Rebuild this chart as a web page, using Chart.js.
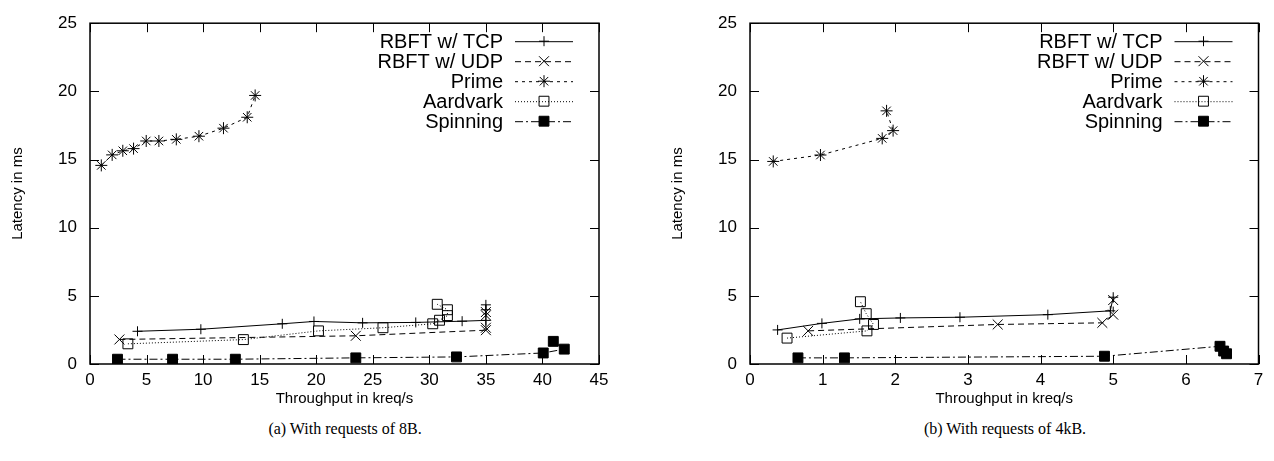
<!DOCTYPE html>
<html>
<head>
<meta charset="utf-8">
<script src="https://cdn.jsdelivr.net/npm/chart.js@4.4.1/dist/chart.umd.min.js"></script>
<style>
body{margin:0;background:#fff;width:1274px;height:461px;overflow:hidden;position:relative}
.box{position:absolute;top:0;height:410px}
#boxA{left:0;width:620px}
#boxB{left:660px;width:614px}
.cap{position:absolute;top:420px;font-family:"Liberation Serif",serif;font-size:16px;text-align:center;color:#000}
</style>
</head>
<body>
<div class="box" id="boxA"><canvas id="chartA"></canvas></div>
<div class="box" id="boxB"><canvas id="chartB"></canvas></div>
<div class="cap" style="left:145px;width:400px">(a) With requests of 8B.</div>
<div class="cap" style="left:805px;width:400px">(b) With requests of 4kB.</div>
<script>

// (a) requests of 8B
const tcpA_x=[4.2,9.8,17.0,19.8,24.1,28.8,32.9,35.0,35.0,35.0]
const tcpA_y=[2.4,2.55,2.95,3.12,3.02,3.05,3.14,3.2,3.98,4.34]
const udpA_x=[2.6,23.5,35.0,35.0,35.0,35.0]
const udpA_y=[1.8,2.07,2.48,2.66,3.57,3.81]
const primeA_x=[1.0,1.96,2.9,3.85,4.97,6.09,7.63,9.63,11.8,13.9,14.6]
const primeA_y=[14.57,15.34,15.64,15.8,16.36,16.36,16.48,16.71,17.3,18.1,19.7]
const aardA_x=[3.35,13.56,20.2,25.9,30.3,30.9,31.6,31.6,30.7]
const aardA_y=[1.48,1.79,2.43,2.66,2.95,3.21,3.55,3.98,4.38]
const spinA_x=[2.43,7.3,12.85,23.5,32.4,40.07,41.93,40.96]
const spinA_y=[0.35,0.35,0.35,0.45,0.52,0.81,1.09,1.66]

// (b) requests of 4kB
const tcpB_x=[0.38,0.99,1.51,2.07,2.89,4.1,4.96,5.0]
const tcpB_y=[2.5,2.98,3.31,3.38,3.43,3.62,3.9,4.9]
const udpB_x=[0.8,3.41,4.85,5.0,5.0]
const udpB_y=[2.43,2.9,3.02,3.62,4.69]
const primeB_x=[0.32,0.97,1.82,1.97,1.88]
const primeB_y=[14.86,15.33,16.55,17.12,18.57]
const aardB_x=[0.51,1.61,1.7,1.6,1.52]
const aardB_y=[1.9,2.43,2.9,3.69,4.57]
const spinB_x=[0.66,1.3,4.88,6.47,6.52,6.56]
const spinB_y=[0.45,0.45,0.57,1.3,0.95,0.75]

const names=['RBFT w/ TCP','RBFT w/ UDP','Prime','Aardvark','Spinning']
const yTicks=[0,5,10,15,20,25]

const styles=[
{pointStyle:'cross',radius:5,dash:[]},
{pointStyle:'crossRot',radius:7,dash:[6,4]},
{pointStyle:'star',radius:6,dash:[3,4]},
{pointStyle:'rect',radius:7,dash:[1,2],open:true},
{pointStyle:'rect',radius:7,dash:[8,3,2,3],fill:true}
]

function pts(xs,ys){
return xs.map((v,i)=>({x:v,y:ys[i]}))
}

function makeSets(list){
return list.map((s,i)=>{
const st=styles[i]
return {
label:names[i],
data:pts(s[0],s[1]),
showLine:true,
borderColor:'#000',
borderWidth:1,
borderDash:st.dash,
backgroundColor:st.fill?'#000':'rgba(0,0,0,0)',
pointStyle:st.pointStyle,
pointRadius:st.radius,
pointBorderColor:'#000',
pointBackgroundColor:st.fill?'#000':'rgba(0,0,0,0)',
pointBorderWidth:1
}
})
}

const frame={
id:'frame',
beforeDatasetsDraw(chart){
const {ctx,chartArea:a,scales:{x,y}}=chart
ctx.save()
ctx.strokeStyle='#000'
ctx.lineWidth=1
ctx.beginPath()
x.ticks.forEach(t=>{
const p=Math.round(x.getPixelForValue(t.value))+0.5
ctx.moveTo(p,a.bottom);ctx.lineTo(p,a.bottom-9)
ctx.moveTo(p,a.top);ctx.lineTo(p,a.top+9)
})
y.ticks.forEach(t=>{
const p=Math.round(y.getPixelForValue(t.value))+0.5
ctx.moveTo(a.left,p);ctx.lineTo(a.left+9,p)
ctx.moveTo(a.right,p);ctx.lineTo(a.right-9,p)
})
ctx.stroke()
ctx.lineWidth=1.5
ctx.strokeRect(a.left,a.top,a.right-a.left,a.bottom-a.top)
ctx.restore()
},
afterDraw(chart){
const {ctx,chartArea:a}=chart
ctx.save()
ctx.font='20px "Liberation Sans"'
ctx.textAlign='right'
ctx.textBaseline='middle'
chart.data.datasets.forEach((d,i)=>{
const yy=a.top+18+i*20
const s0=a.right-84,s1=a.right-26
ctx.fillStyle='#000'
ctx.fillText(d.label,a.right-96,yy+1)
ctx.strokeStyle='#000'
ctx.lineWidth=1
ctx.setLineDash(d.borderDash)
ctx.beginPath();ctx.moveTo(s0,yy+0.5);ctx.lineTo(s1,yy+0.5);ctx.stroke()
ctx.setLineDash([])
ctx.fillStyle=d.pointBackgroundColor
Chart.helpers.drawPoint(ctx,{pointStyle:d.pointStyle,radius:d.pointRadius,rotation:0,borderWidth:1},(s0+s1)/2,yy)
})
ctx.restore()
}
}

function makeChart(id,sets,xmax,padRight){
new Chart(document.getElementById(id),{
type:'scatter',
data:{datasets:makeSets(sets)},
plugins:[frame],
options:{
animation:false,
responsive:true,
maintainAspectRatio:false,
layout:{padding:{top:14,right:padRight,left:0,bottom:0}},
plugins:{legend:{display:false},tooltip:{enabled:false}},
scales:{
x:{
type:'linear',min:0,max:xmax,
ticks:{stepSize:xmax>10?5:1,color:'#000',padding:6,font:{family:'Liberation Sans',size:17}},
grid:{display:false,drawTicks:false},
border:{display:false},
title:{display:true,text:'Throughput in kreq/s',color:'#000',font:{family:'Liberation Sans',size:15},padding:{top:0,bottom:2}},
afterFit(s){s.height=46}
},
y:{
type:'linear',min:0,max:25,
afterBuildTicks(s){s.ticks=yTicks.map(v=>({value:v}))},
ticks:{color:'#000',padding:13,font:{family:'Liberation Sans',size:17}},
grid:{display:false,drawTicks:false},
border:{display:false},
title:{display:true,text:'Latency in ms',color:'#000',font:{family:'Liberation Sans',size:15},padding:{top:9,bottom:0}},
afterFit(s){s.width=90}
}
}
}
})
}

makeChart('chartA',[[tcpA_x,tcpA_y],[udpA_x,udpA_y],[primeA_x,primeA_y],[aardA_x,aardA_y],[spinA_x,spinA_y]],45,21)
makeChart('chartB',[[tcpB_x,tcpB_y],[udpB_x,udpB_y],[primeB_x,primeB_y],[aardB_x,aardB_y],[spinB_x,spinB_y]],7,15.5)

</script>
</body>
</html>
